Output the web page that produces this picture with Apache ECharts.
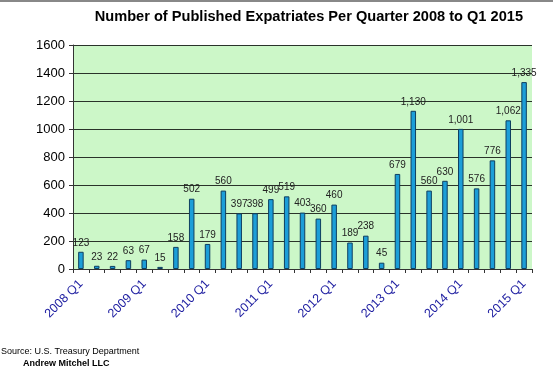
<!DOCTYPE html>
<html>
<head>
<meta charset="utf-8">
<script src="https://cdn.jsdelivr.net/npm/echarts@6/dist/echarts.min.js"></script>
<style>html,body{margin:0;padding:0;background:#fff;}#c{width:553px;height:369px;}</style>
</head>
<body>
<div id="c"></div>
<script>
const categories = [
  '2008 Q1','2008 Q2','2008 Q3','2008 Q4',
  '2009 Q1','2009 Q2','2009 Q3','2009 Q4',
  '2010 Q1','2010 Q2','2010 Q3','2010 Q4',
  '2011 Q1','2011 Q2','2011 Q3','2011 Q4',
  '2012 Q1','2012 Q2','2012 Q3','2012 Q4',
  '2013 Q1','2013 Q2','2013 Q3','2013 Q4',
  '2014 Q1','2014 Q2','2014 Q3','2014 Q4',
  '2015 Q1'
];
const expatriates = [123,23,22,63,67,15,158,502,179,560,397,398,499,519,403,360,460,189,238,45,679,1130,560,630,1001,576,776,1062,1335];
const yTicks = [0,200,400,600,800,1000,1200,1400,1600];

const chart = echarts.init(document.getElementById('c'), null, {renderer:'canvas'});
chart.setOption({
  backgroundColor: '#ffffff',
  animation: false,
  title: [
    {text: 'Number of Published Expatriates Per Quarter 2008 to Q1 2015', right: 30, top: 9, padding: 0,
     textStyle: {fontFamily: 'Liberation Sans, Arial', fontWeight: 'bold', fontSize: 14.6, color: '#000'}},
    {text: 'Source: U.S. Treasury Department', left: 1, top: 347, padding: 0,
     textStyle: {fontFamily: 'Liberation Sans, Arial', fontWeight: 'normal', fontSize: 9, color: '#000'}},
    {text: 'Andrew Mitchel LLC', left: 23, top: 359, padding: 0,
     textStyle: {fontFamily: 'Liberation Sans, Arial', fontWeight: 'bold', fontSize: 9, color: '#000'}}
  ],
  graphic: [
    {type: 'line', shape: {x1: 0, y1: 1, x2: 553, y2: 1}, style: {stroke: '#888', lineWidth: 2}}
  ],
  grid: {left: 73, right: 21, top: 45, bottom: 100, show: true, backgroundColor: '#ccf7c8', borderWidth: 0},
  xAxis: {
    type: 'category',
    data: categories,
    boundaryGap: true,
    axisLine: {lineStyle: {color: '#333', width: 1}},
    axisTick: {show: true, interval: 0, length: 4, lineStyle: {color: '#333'}},
    axisLabel: {
      interval: 3, rotate: 45, margin: 13,
      color: '#1c1ca0', fontFamily: 'Liberation Sans, Arial', fontSize: 12.5
    }
  },
  yAxis: {
    type: 'value',
    min: yTicks[0], max: yTicks[yTicks.length-1], interval: 200,
    axisLine: {show: true, lineStyle: {color: '#333'}},
    axisTick: {show: true, length: 4, lineStyle: {color: '#333'}},
    axisLabel: {color: '#000', fontFamily: 'Liberation Sans, Arial', fontSize: 13, margin: 8,
      formatter: v => String(v)},
    splitLine: {show: true, lineStyle: {color: '#2a332a', width: 1}}
  },
  series: [{
    type: 'bar',
    data: expatriates,
    barWidth: 5.5,
    itemStyle: {color: '#1c9ed8', borderColor: '#0e3f60', borderWidth: 1},
    label: {
      show: true, position: 'top', distance: 4,
      color: '#222', fontFamily: 'Liberation Sans, Arial', fontSize: 10,
      formatter: p => p.value.toLocaleString('en-US')
    }
  }]
});
</script>
</body>
</html>
